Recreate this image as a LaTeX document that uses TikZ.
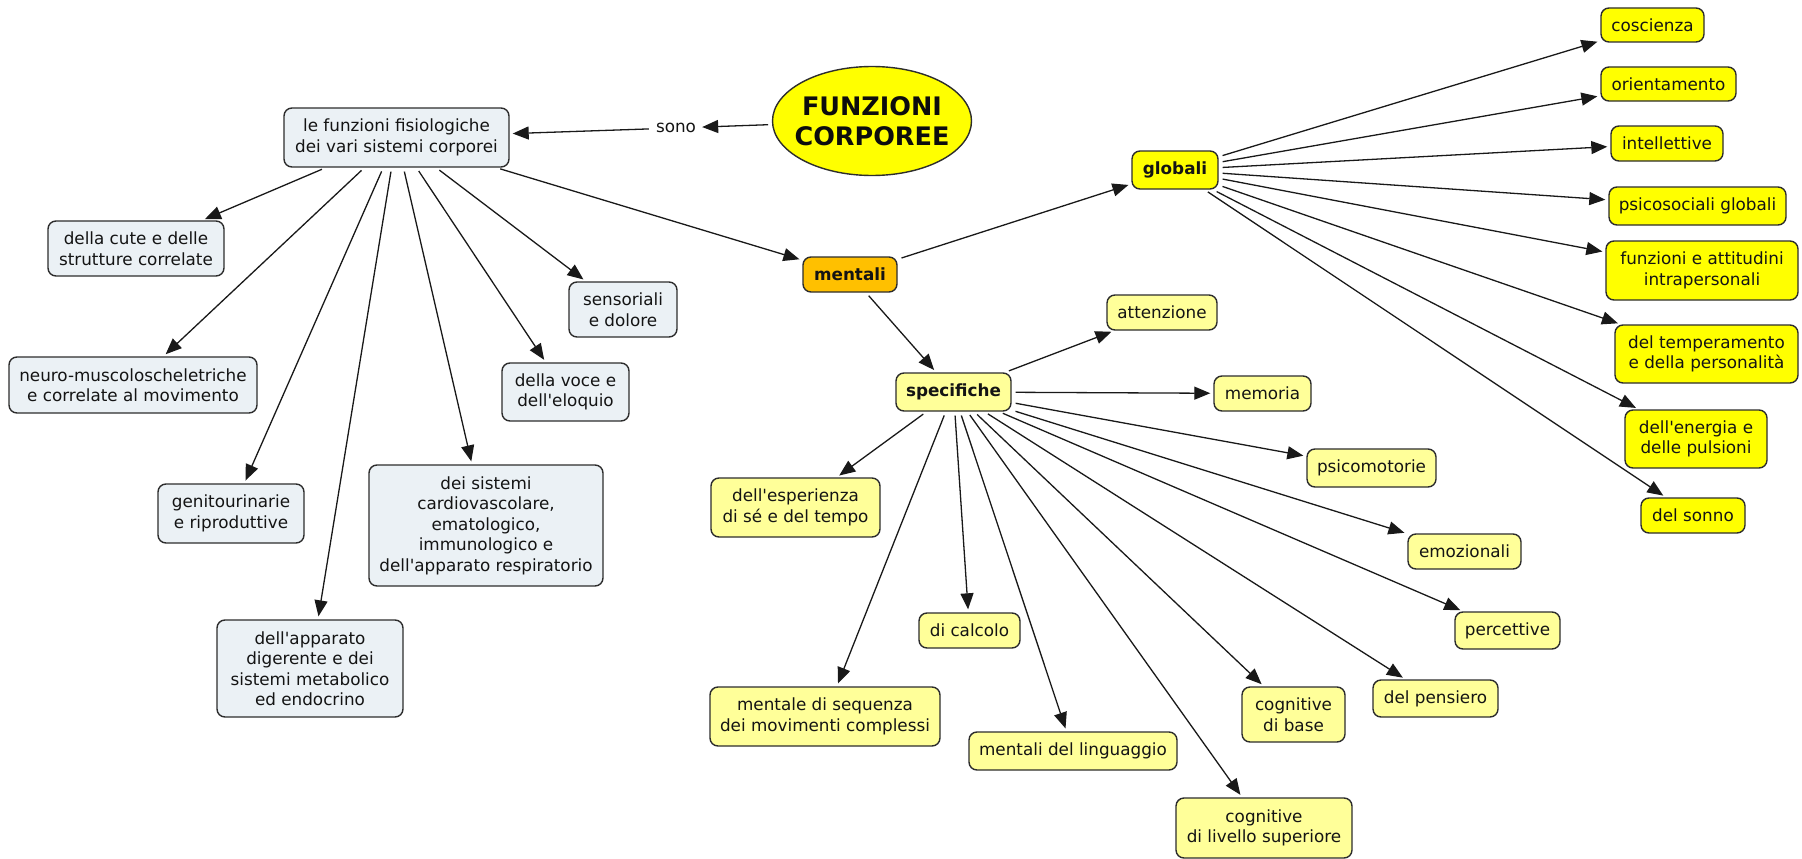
\documentclass[tikz,border=0pt]{standalone}
\usepackage{fontspec}
\newfontfamily\mapfont{DejaVu Sans}
\usetikzlibrary{arrows.meta,shapes.geometric}

\definecolor{concept}{RGB}{235,241,245}
\definecolor{hiyellow}{RGB}{255,255,0}
\definecolor{paleyellow}{RGB}{255,255,153}
\definecolor{amber}{RGB}{255,192,0}
\definecolor{ink}{RGB}{45,45,45}

\tikzset{
  box/.style={draw=ink, line width=1.4pt, rounded corners=8pt, inner sep=0pt,
    align=center, text=black!92, font=\mapfont\fontsize{16.8}{20.5}\selectfont},
  sz/.style 2 args={minimum width=#1pt, minimum height=#2pt},
  greybox/.style={box, fill=concept},
  yelbox/.style={box, fill=hiyellow},
  palebox/.style={box, fill=paleyellow},
  boldtext/.style={font=\mapfont\bfseries\fontsize{16.8}{20.5}\selectfont},
  keybox/.style={box, fill=amber, boldtext},
  linkword/.style={inner sep=3pt, text=black!92, font=\mapfont\fontsize{16.8}{20.5}\selectfont},
  link/.style={draw=black!90, line width=1.3pt, -{Triangle[length=16pt,width=13pt]},
    shorten <=4pt, shorten >=3pt},
}

\begin{document}
\begin{tikzpicture}[x=1pt,y=-1pt]
\useasboundingbox (0,0) rectangle (1802,859);

% root concept (fixed-size ellipse, title set as a centred label)
\node[ellipse, draw=ink, line width=1.4pt, fill=hiyellow, minimum width=199pt,
      minimum height=109pt, inner sep=0pt,
      label={[align=center, text=black!95,
              font=\mapfont\bfseries\fontsize{25.5}{30.5}\selectfont]center:FUNZIONI\\CORPOREE}]
      (funz) at (872,121) {};
\node[linkword] (sono) at (676,128) {sono};

% physiological systems
\node[greybox, sz={225}{59}] (fisio) at (396.5,137.5) {le funzioni fisiologiche\\dei vari sistemi corporei};
\node[greybox, sz={176}{55}] (cute) at (136,248.5) {della cute e delle\\strutture correlate};
\node[greybox, sz={248}{56}] (neuro) at (133,385) {neuro-muscoloscheletriche\\e correlate al movimento};
\node[greybox, sz={108}{55}] (sens) at (623,309.5) {sensoriali\\e dolore};
\node[greybox, sz={127}{58}] (voce) at (565.5,392) {della voce e\\dell'eloquio};
\node[greybox, sz={146}{59}] (genito) at (231,513.5) {genitourinarie\\e riproduttive};
\node[greybox, sz={234}{121}] (cardio) at (486,525.5) {dei sistemi\\cardiovascolare,\\ematologico,\\immunologico e\\dell'apparato respiratorio};
\node[greybox, sz={186}{97}] (diger) at (310,668.5) {dell'apparato\\digerente e dei\\sistemi metabolico\\ed endocrino};

% mental functions
\node[keybox, sz={94}{35}] (mentali) at (850,274.5) {mentali};
\node[yelbox, boldtext, sz={86}{38}] (globali) at (1175,170) {globali};
\node[palebox, boldtext, sz={115}{38}] (specif) at (953.5,392) {specifiche};

% global mental functions
\node[yelbox, sz={103}{34}] (cosc) at (1652.5,25) {coscienza};
\node[yelbox, sz={135}{34}] (orient) at (1668.5,84) {orientamento};
\node[yelbox, sz={112}{35}] (intell) at (1667,143.5) {intellettive};
\node[yelbox, sz={177}{38}] (psicos) at (1697.5,206) {psicosociali globali};
\node[yelbox, sz={192}{59}] (attit) at (1702,270.5) {funzioni e attitudini\\intrapersonali};
\node[yelbox, sz={183}{58}] (temper) at (1706.5,354) {del temperamento\\e della personalità};
\node[yelbox, sz={142}{58}] (energ) at (1696,439) {dell'energia e\\delle pulsioni};
\node[yelbox, sz={104}{35}] (sonno) at (1693,515.5) {del sonno};

% specific mental functions
\node[palebox, sz={110}{35}] (attenz) at (1162,312.5) {attenzione};
\node[palebox, sz={97}{35}] (memor) at (1262.5,393.5) {memoria};
\node[palebox, sz={129}{38}] (psicom) at (1371.5,468) {psicomotorie};
\node[palebox, sz={113}{35}] (emoz) at (1464.5,551.5) {emozionali};
\node[palebox, sz={105}{37}] (percet) at (1507.5,630.5) {percettive};
\node[palebox, sz={125}{37}] (pensiero) at (1435.5,698.5) {del pensiero};
\node[palebox, sz={103}{55}] (cbase) at (1293.5,714.5) {cognitive\\di base};
\node[palebox, sz={176}{60}] (livsup) at (1264,828) {cognitive\\di livello superiore};
\node[palebox, sz={208}{38}] (lingu) at (1073,751) {mentali del linguaggio};
\node[palebox, sz={101}{35}] (calcolo) at (969.5,630.5) {di calcolo};
\node[palebox, sz={230}{59}] (sequenza) at (825,716.5) {mentale di sequenza\\dei movimenti complessi};
\node[palebox, sz={169}{59}] (esper) at (795.5,507.5) {dell'esperienza\\di sé e del tempo};

% connectors
\draw[link] (funz) -- (sono);
\draw[link] (sono) -- (fisio);
\foreach \t in {cute,neuro,genito,diger,cardio,voce,sens,mentali}
  \draw[link] (fisio) -- (\t);
\draw[link] (mentali) -- (globali);
\draw[link] (mentali) -- (specif);
\foreach \t in {cosc,orient,intell,psicos,attit,temper,energ,sonno}
  \draw[link] (globali) -- (\t);
\foreach \t in {attenz,memor,psicom,emoz,percet,pensiero,cbase,livsup,lingu,calcolo,sequenza,esper}
  \draw[link] (specif) -- (\t);
\end{tikzpicture}
\end{document}
